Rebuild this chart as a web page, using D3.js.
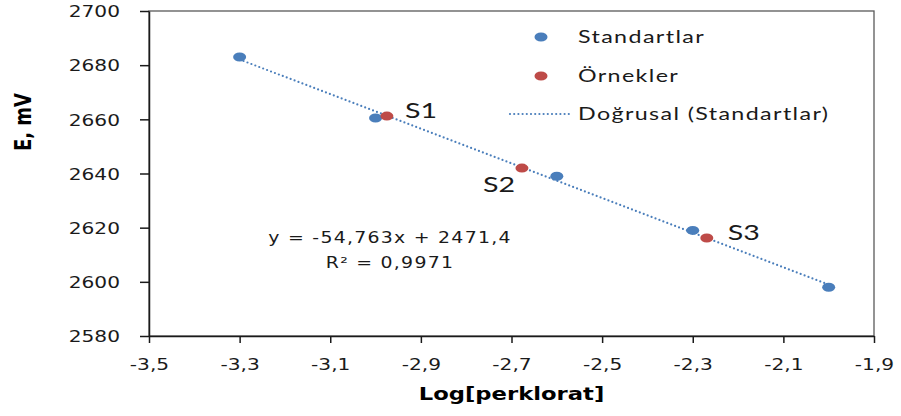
<!DOCTYPE html>
<html><head><meta charset="utf-8">
<script src="https://cdn.jsdelivr.net/npm/d3@7"></script>
<style>
body{margin:0;background:#fff}
svg{display:block}
</style></head><body><svg id="c" width="901" height="416"></svg>
<script>
// ---- data ----
const standardX = [-3.3, -3.0, -2.6, -2.3, -2.0];
const standardY = [2683, 2660.5, 2639, 2619, 2598];
const sampleX = [-2.975, -2.677, -2.269];
const sampleY = [2661.2, 2642, 2616.2];
const sampleLabels = ["S1", "S2", "S3"];
const xTicks = [-3.5, -3.3, -3.1, -2.9, -2.7, -2.5, -2.3, -2.1, -1.9];
const yTicks = [2580, 2600, 2620, 2640, 2660, 2680, 2700];
const legendLabels = ["Standartlar", "Örnekler", "Doğrusal (Standartlar)"];
const equationLines = ["y = -54,763x + 2471,4", "R² = 0,9971"];
const xTitle = "Log[perklorat]";
const yTitle = "E, mV";

// ---- layout ----
const W = 901, H = 416;
const M = {left: 149, top: 11, right: 27, bottom: 80};
const pw = W - M.left - M.right, ph = H - M.top - M.bottom;
const SX = 1.26;
const blue = "#4a7ebb", red = "#be4b48";
const labelOffsets = [[18, 2], [-39, 24], [21, 2]];

const svg = d3.select("#c");
const g = svg.append("g").attr("transform", `translate(${M.left},${M.top})`);
const x = d3.scaleLinear().domain([-3.5, -1.9]).range([0, pw]);
const y = d3.scaleLinear().domain([2580, 2700]).range([ph, 0]);
const fmt = d => d3.format(".1f")(d).replace("\u2212", "-").replace(".", ",");

function txt(parent, px, py, s, o) {
  const t = parent.append("text")
    .attr("transform", `translate(${px},${py}) scale(${o.sx || SX},1)`)
    .attr("font-family", o.font).attr("font-size", o.size)
    .attr("font-weight", o.weight || "normal")
    .attr("fill", o.fill || "#1a1a1a")
    .attr("text-anchor", o.anchor || "start")
    .text(s);
  if (o.ls) t.attr("letter-spacing", o.ls);
  return t;
}

// plot frame
g.append("rect").attr("x", 0).attr("y", 0).attr("width", pw).attr("height", ph)
  .attr("fill", "none").attr("stroke", "#595959").attr("stroke-width", 1.3);

// axes
const xAxis = g.append("g").attr("transform", `translate(0,${ph})`)
  .call(d3.axisBottom(x).tickValues(xTicks).tickSize(7).tickSizeOuter(0).tickFormat(fmt));
const yAxis = g.append("g")
  .call(d3.axisLeft(y).tickValues(yTicks).tickSize(9).tickSizeOuter(0).tickFormat(d3.format("d")));
[xAxis, yAxis].forEach(a => {
  a.select(".domain").attr("stroke", "#1a1a1a").attr("stroke-width", 1.5);
  a.selectAll(".tick line").attr("stroke", "#1a1a1a").attr("stroke-width", 1.5);
  a.selectAll(".tick text").attr("font-family", "DejaVu Sans").attr("font-size", 16).attr("fill", "#1a1a1a");
});
xAxis.selectAll(".tick text").attr("y", 0).attr("dy", 0)
  .attr("transform", `translate(0,34) scale(${SX},1)`);
yAxis.selectAll(".tick text").attr("x", 0).attr("dy", "0.36em")
  .attr("transform", `translate(-29,0) scale(${SX},1)`);

// trendline (least squares on standards)
const mx = d3.mean(standardX), my = d3.mean(standardY);
const slope = d3.sum(standardX.map((v, i) => (v - mx) * (standardY[i] - my))) /
              d3.sum(standardX.map(v => (v - mx) ** 2));
const icpt = my - slope * mx;
const x0 = d3.min(standardX), x1 = d3.max(standardX);
g.append("line")
  .attr("x1", x(x0)).attr("y1", y(slope * x0 + icpt))
  .attr("x2", x(x1)).attr("y2", y(slope * x1 + icpt))
  .attr("stroke", blue).attr("stroke-width", 2.2)
  .attr("stroke-dasharray", "0 4.2").attr("stroke-linecap", "round");

// points
g.selectAll(".std").data(standardX).join("ellipse")
  .attr("cx", d => x(d)).attr("cy", (d, i) => y(standardY[i]))
  .attr("rx", 6.5).attr("ry", 4.5).attr("fill", blue);
g.selectAll(".smp").data(sampleX).join("ellipse")
  .attr("cx", d => x(d)).attr("cy", (d, i) => y(sampleY[i]))
  .attr("rx", 6.5).attr("ry", 4.5).attr("fill", red);

// sample labels
sampleLabels.forEach((s, i) => {
  txt(g, x(sampleX[i]) + labelOffsets[i][0], y(sampleY[i]) + labelOffsets[i][1], s,
      {font: "Lato", size: 22, sx: 1.3});
});

// equation
equationLines.forEach((s, i) => {
  txt(svg, 390, 243 + i * 25, s, {font: "DejaVu Sans", size: 15, anchor: "middle", ls: 1});
});

// legend
const lg = svg.append("g").attr("transform", "translate(541,0)");
lg.append("ellipse").attr("cx", 0).attr("cy", 37).attr("rx", 6.5).attr("ry", 4.5).attr("fill", blue);
lg.append("ellipse").attr("cx", 0).attr("cy", 76).attr("rx", 6.5).attr("ry", 4.5).attr("fill", red);
lg.append("line").attr("x1", -31).attr("x2", 28).attr("y1", 114).attr("y2", 114)
  .attr("stroke", blue).attr("stroke-width", 2.2)
  .attr("stroke-dasharray", "0 4.2").attr("stroke-linecap", "round");
legendLabels.forEach((s, i) => {
  txt(lg, 37, [43, 82, 120][i], s, {font: "Lato", size: 17, sx: 1.37, ls: 1});
});

// axis titles
txt(svg, M.left + pw / 2, 400, xTitle, {font: "DejaVu Sans", size: 18, weight: "bold", anchor: "middle", fill: "#000"});
svg.append("text")
  .attr("transform", `translate(31,122) scale(${SX},1) rotate(-90)`)
  .attr("font-family", "DejaVu Sans").attr("font-size", 18).attr("font-weight", "bold")
  .attr("text-anchor", "middle").attr("fill", "#000").text(yTitle);
</script></body></html>
